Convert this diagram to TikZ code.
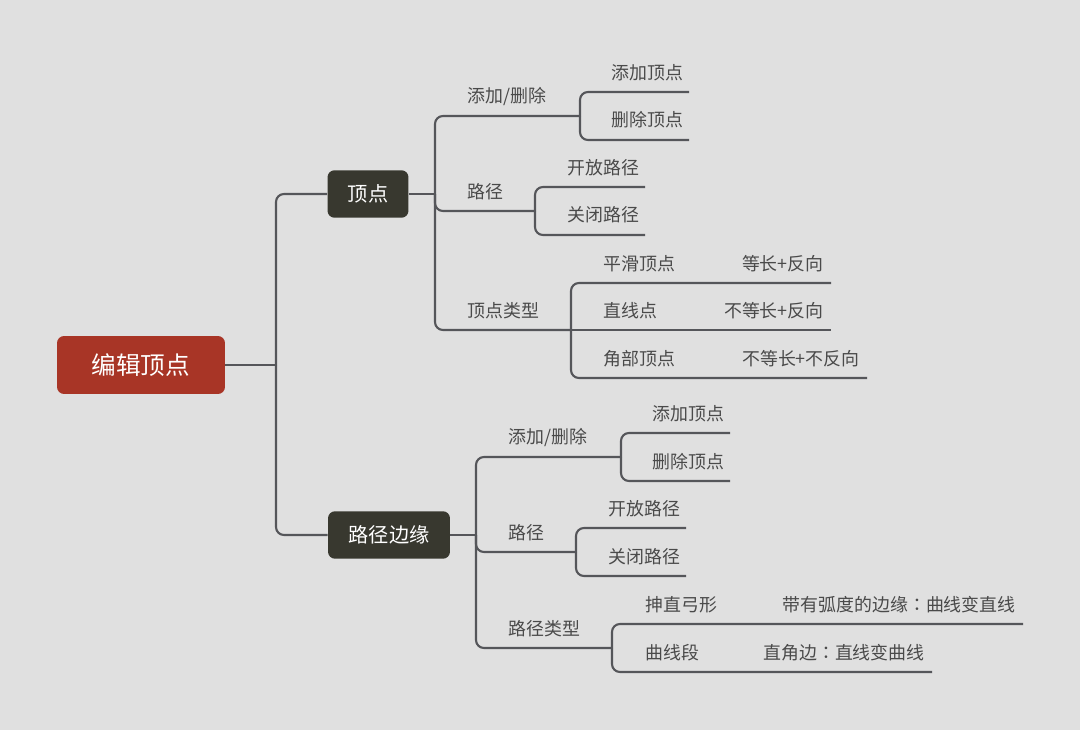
\documentclass[tikz,border=0pt]{standalone}
\usepackage{fontspec}
\setmainfont{Noto Sans CJK SC}
\newfontfamily\cjktc{Noto Sans CJK TC}
\definecolor{bgcol}{HTML}{E0E0E0}
\definecolor{rootcol}{HTML}{A83526}
\definecolor{topcol}{HTML}{38382F}
\definecolor{linecol}{HTML}{55565A}
\definecolor{txtcol}{HTML}{4A4A4A}
\tikzset{
  rootbox/.style={fill=rootcol, text=white, rounded corners=4pt, font=\fontsize{14}{16}\selectfont,
    minimum width=3.36cm, minimum height=1.16cm, inner sep=0pt},
  topbox/.style={fill=topcol, text=white, rounded corners=4pt, font=\fontsize{11.5}{13}\selectfont,
    minimum height=0.95cm, inner sep=0pt},
  leaf/.style={text=txtcol, font=\fontsize{10.2}{12}\selectfont, inner sep=0pt, anchor=west},
  note/.style={text=txtcol, font=\fontsize{10.2}{12}\selectfont, inner sep=0pt, anchor=east},
  link/.style={draw=linecol, line width=1.2pt, rounded corners=4.5pt},
}
\begin{document}
\begin{tikzpicture}[x=0.02cm, y=-0.02cm]
  \fill[bgcol] (0,0) rectangle (1080,730);
  \useasboundingbox (0,0) rectangle (1080,730);

  % Root and main topics
  \node[rootbox] (root) at (141,365) {编辑顶点};
  \node[topbox, minimum width=1.62cm] (vtx) at (368,194) {顶点};
  \node[topbox, minimum width=2.44cm] (edge) at (389,535) {路径边缘};

  \coordinate (j-root) at (276,365);
  \draw[link] (root.east) -- (j-root);
  \draw[link] (j-root) |- (vtx.west);
  \draw[link] (j-root) |- (edge.west);

  % ---- Vertex branch ----
  \coordinate (j-vtx) at (435,194);
  \draw[link] (vtx.east) -- (j-vtx);
  \node[leaf] (v-addrm) at (467,97) {添加/删除};
  \node[leaf] (v-path) at (467,192) {路径};
  \node[leaf] (v-type) at (467,311) {顶点类型};
  \coordinate (v-addrm-j) at (580,116);
  \coordinate (v-path-j) at (535,211);
  \coordinate (v-type-j) at (571,330);
  \draw[link] (j-vtx) |- (v-addrm-j);
  \draw[link] (j-vtx) |- (v-path-j);
  \draw[link] (j-vtx) |- (v-type-j);

  % add / remove
  \node[leaf] (v-add) at (611,73) {添加顶点};
  \node[leaf] (v-del) at (611,120) {删除顶点};
  \coordinate (v-add-e) at (689,92);
  \coordinate (v-del-e) at (689,140);
  \draw[link] (v-addrm-j) |- (v-add-e);
  \draw[link] (v-addrm-j) |- (v-del-e);

  % paths
  \node[leaf] (v-open) at (567,168) {开放路径};
  \node[leaf] (v-close) at (567,215) {关闭路径};
  \coordinate (v-open-e) at (645,187);
  \coordinate (v-close-e) at (645,235);
  \draw[link] (v-path-j) |- (v-open-e);
  \draw[link] (v-path-j) |- (v-close-e);

  % vertex types
  \node[leaf] (v-smooth) at (603,264) {平滑顶点};
  \node[leaf] (v-line) at (603,311) {直线点};
  \node[leaf] (v-corner) at (603,359) {角部顶点};
  \coordinate (v-smooth-e) at (831,283);
  \coordinate (v-line-e) at (831,330);
  \coordinate (v-corner-e) at (867,378);
  \node[note] (v-smooth-n) at (824,264) {等长+反向};
  \node[note] (v-line-n) at (824,311) {不等长+反向};
  \node[note] (v-corner-n) at (860,359) {不等长+不反向};
  \draw[link] (v-type-j) |- (v-smooth-e);
  \draw[link] (v-type-j) -- (v-line-e);
  \draw[link] (v-type-j) |- (v-corner-e);

  % ---- Path edge branch ----
  \coordinate (j-edge) at (476,535);
  \draw[link] (edge.east) -- (j-edge);
  \node[leaf] (e-addrm) at (508,438) {添加/删除};
  \node[leaf] (e-path) at (508,533) {路径};
  \node[leaf] (e-type) at (508,629) {路径类型};
  \coordinate (e-addrm-j) at (621,457);
  \coordinate (e-path-j) at (576,552);
  \coordinate (e-type-j) at (612,648);
  \draw[link] (j-edge) |- (e-addrm-j);
  \draw[link] (j-edge) |- (e-path-j);
  \draw[link] (j-edge) |- (e-type-j);

  % add / remove
  \node[leaf] (e-add) at (652,414) {添加顶点};
  \node[leaf] (e-del) at (652,462) {删除顶点};
  \coordinate (e-add-e) at (730,433);
  \coordinate (e-del-e) at (730,481);
  \draw[link] (e-addrm-j) |- (e-add-e);
  \draw[link] (e-addrm-j) |- (e-del-e);

  % paths
  \node[leaf] (e-open) at (608,509) {开放路径};
  \node[leaf] (e-close) at (608,557) {关闭路径};
  \coordinate (e-open-e) at (686,528);
  \coordinate (e-close-e) at (686,576);
  \draw[link] (e-path-j) |- (e-open-e);
  \draw[link] (e-path-j) |- (e-close-e);

  % path types
  \node[leaf] (e-bow) at (645,605) {抻直弓形};
  \node[leaf] (e-curve) at (645,653) {曲线段};
  \coordinate (e-bow-e) at (1023,624);
  \coordinate (e-curve-e) at (932,672);
  \node[note] (e-bow-n) at (1016,605) {带有弧度的边缘{\cjktc ：}曲线变直线};
  \node[note] (e-curve-n) at (925,653) {直角边{\cjktc ：}直线变曲线};
  \draw[link] (e-type-j) |- (e-bow-e);
  \draw[link] (e-type-j) |- (e-curve-e);
\end{tikzpicture}
\end{document}
